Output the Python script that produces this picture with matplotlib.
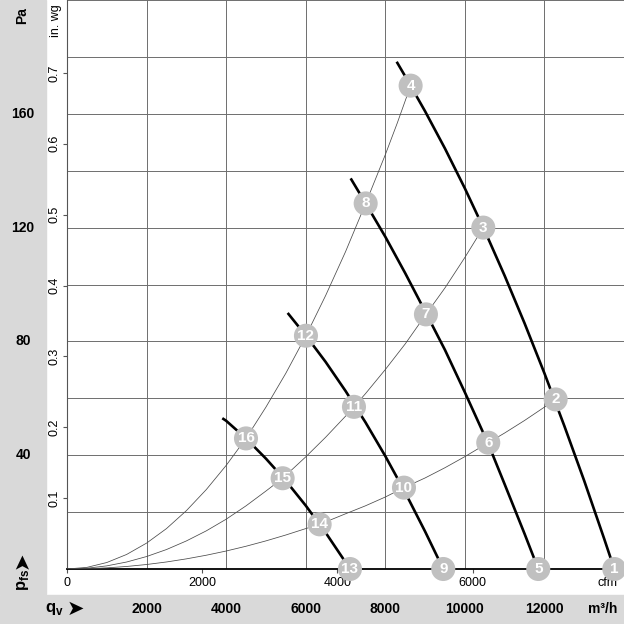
import numpy as np
import matplotlib
matplotlib.use("Agg")
import matplotlib.pyplot as plt
from matplotlib.ticker import MultipleLocator
from matplotlib.transforms import blended_transform_factory
from matplotlib.patches import Rectangle

plt.rcParams['font.family'] = ['Liberation Sans', 'DejaVu Sans']
plt.rcParams['mathtext.fontset'] = 'custom'
plt.rcParams['mathtext.rm'] = 'Liberation Sans'
plt.rcParams['mathtext.bf'] = 'Liberation Sans:bold'

# fan curves (qv in m3/h, pfs in Pa), one per speed
fan_a_x = [8286, 8500, 9000, 9500, 10000, 10500, 11000, 11500, 12000, 12500, 13000, 13500, 13756]
fan_a_y = [178.3, 173.2, 160.9, 147.8, 133.8, 118.9, 103.1, 86.4, 68.8, 50.3, 31.0, 10.7, 0]
fan_b_x = [7130, 7507, 8000, 8500, 9000, 9500, 10000, 10588, 11000, 11500, 11845]
fan_b_y = [137.3, 128.5, 116.8, 104.0, 90.6, 77.0, 62.1, 44.0, 29.8, 12.4, 0]
fan_c_x = [5546, 6006, 6500, 7000, 7500, 8000, 8500, 9000, 9457]
fan_c_y = [90.0, 82.0, 72.8, 62.6, 51.6, 39.7, 26.9, 13.2, 0]
fan_d_x = [3903, 4000, 4499, 5000, 5500, 6000, 6500, 7000, 7112]
fan_d_y = [53.0, 52.1, 45.9, 38.8, 31.0, 22.3, 12.8, 2.4, 0]

# system curves through the operating points
sys_hi_x = [0, 500, 1000, 1500, 2000, 2500, 3000, 3500, 4000, 4499, 5000, 5500, 6006,
            6500, 7000, 7507, 8000, 8300, 8637]
sys_hi_y = [0, 0.57, 2.28, 5.12, 9.1, 14.2, 20.5, 27.9, 36.4, 45.9, 56.9, 68.8, 82.0,
            96.1, 111.5, 128.5, 145.6, 156.7, 169.9]
sys_mid_x = [0, 500, 1000, 1500, 2000, 2500, 3000, 3500, 4000, 4500, 5000, 5420, 6000,
             6500, 7000, 7213, 7500, 8000, 8500, 9022, 9500, 10000, 10463]
sys_mid_y = [0, 0.27, 1.1, 2.46, 4.38, 6.84, 9.86, 13.4, 17.5, 22.2, 27.4, 31.9, 39.4,
             46.3, 53.7, 57.0, 61.6, 70.1, 79.1, 89.5, 98.8, 109.5, 120.0]
sys_lo_x = [0, 500, 1000, 1500, 2000, 2500, 3000, 3500, 4000, 4500, 5000, 5500, 6000,
            6350, 7000, 7500, 8000, 8470, 9000, 9500, 10000, 10588, 11000, 11500, 12000, 12282]
sys_lo_y = [0, 0.1, 0.4, 0.89, 1.58, 2.47, 3.56, 4.84, 6.32, 8.0, 9.88, 11.95, 14.2,
            15.7, 19.4, 22.2, 25.3, 28.6, 32.0, 35.6, 39.5, 44.4, 47.8, 52.2, 56.9, 59.6]

# numbered operating points
op_num = list(range(1, 17))
op_x = [13756, 12282, 10463, 8637, 11845, 10588, 9022, 7507,
        9457, 8470, 7213, 6006, 7112, 6350, 5420, 4499]
op_y = [0, 59.6, 120.0, 169.9, 0, 44.4, 89.5, 128.5,
        0, 28.6, 57.0, 82.0, 0, 15.7, 31.9, 45.9]

# axis labels
pa_labels = [40, 80, 120, 160]
m3h_labels = [2000, 4000, 6000, 8000, 10000, 12000]
inwg_ticks = [0.1, 0.2, 0.3, 0.4, 0.5, 0.6, 0.7]
cfm_ticks = [0, 2000, 4000, 6000, 8000]
cfm_labels = ['0', '2000', '4000', '6000', 'cfm']

PA_PER_INWG = 249.089
M3H_PER_CFM = 1.699

W = H = 624
fig = plt.figure(figsize=(6.24, 6.24), dpi=100)
band = '#d9d9d9'
fig.patches.append(Rectangle((0, 30 / H), 46 / W, 1 - 30 / H, transform=fig.transFigure,
                             color=band, zorder=-5))
fig.patches.append(Rectangle((0, 0), 1, 29 / H, transform=fig.transFigure,
                             color=band, zorder=-5))

ax = fig.add_axes([67 / W, 55 / H, 557 / W, 569 / H])
ax.set_xlim(0, 14000)
ax.set_ylim(0, 200)
ax.patch.set_alpha(0)

# grid every 2000 m3/h and 20 Pa
ax.xaxis.set_minor_locator(MultipleLocator(2000))
ax.yaxis.set_minor_locator(MultipleLocator(20))
ax.grid(which='minor', color='#6e6e6e', lw=0.7)
ax.tick_params(which='minor', length=0)

ax.set_xticks(np.array(cfm_ticks) * M3H_PER_CFM)
ax.set_xticklabels(cfm_labels)
ax.set_yticks(np.array(inwg_ticks) * PA_PER_INWG)
ax.set_yticklabels([str(v) for v in inwg_ticks])
ax.tick_params(axis='x', length=3, pad=3, labelsize=9, color='#555555')
ax.tick_params(axis='y', length=3, pad=2, labelsize=9, color='#555555')
for lab in ax.get_yticklabels():
    lab.set_rotation(90)
    lab.set_va('center')

for s in ['top', 'right']:
    ax.spines[s].set_visible(False)
ax.spines['left'].set_color('#555555')
ax.spines['left'].set_linewidth(0.8)
ax.spines['bottom'].set_color('black')
ax.spines['bottom'].set_linewidth(1.3)

for xs, ys in [(sys_hi_x, sys_hi_y), (sys_mid_x, sys_mid_y), (sys_lo_x, sys_lo_y)]:
    ax.plot(xs, ys, color='#4a4a4a', lw=0.55, zorder=3)
for xs, ys in [(fan_a_x, fan_a_y), (fan_b_x, fan_b_y), (fan_c_x, fan_c_y), (fan_d_x, fan_d_y)]:
    ax.plot(xs, ys, color='black', lw=1.9, zorder=4, solid_capstyle='butt')

ax.scatter(op_x, op_y, s=300, color='#c0c0c0', edgecolors='none', zorder=5, clip_on=False)
for n, x, y in zip(op_num, op_x, op_y):
    ax.text(x, y, str(n), color='white', fontsize=11, fontweight='bold',
            ha='center', va='center', zorder=6, clip_on=False)

# Pa labels in the left band, m3/h labels in the bottom band
ty = blended_transform_factory(fig.transFigure, ax.transData)
for v in pa_labels:
    fig.text(23 / W, v, str(v), transform=ty, ha='center', va='center',
             fontsize=10, fontweight='bold')
tx = blended_transform_factory(ax.transData, fig.transFigure)
for v in m3h_labels:
    ax.text(v, 15 / H, str(v), transform=tx, ha='center', va='center',
            fontsize=10, fontweight='bold', clip_on=False)
fig.text(603 / W, 15 / H, 'm³/h', ha='center', va='center', fontsize=10, fontweight='bold')

fig.text(22 / W, 1 - 7 / H, 'Pa', rotation=90, ha='center', va='top',
         fontsize=10, fontweight='bold')
fig.text(56 / W, 1 - 4 / H, 'in. wg', rotation=90, ha='center', va='top', fontsize=9)
fig.text(23 / W, 1 - 591 / H, r'$\mathbf{p}_{\mathbf{fs}}$', rotation=90, ha='center',
         va='bottom', fontsize=12)
fig.text(22 / W, 1 - 560 / H, '➤', rotation=90, ha='center', va='center',
         fontsize=15, family='DejaVu Sans')
fig.text(45 / W, 15 / H, r'$\mathbf{q}_{\mathbf{v}}$', ha='left', va='center', fontsize=12)
fig.text(75 / W, 15 / H, '➤', ha='center', va='center', fontsize=15, family='DejaVu Sans')

fig.savefig('out.png', dpi=100)
